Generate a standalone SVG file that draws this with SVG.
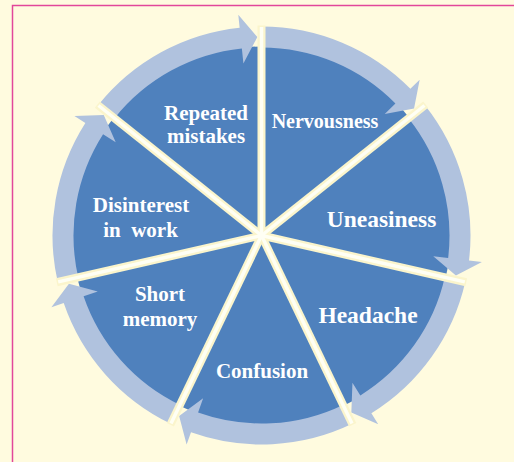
<svg xmlns="http://www.w3.org/2000/svg" width="514" height="462" viewBox="0 0 514 462">
<style>
.slice{fill:#4F81BD}
.ring{fill:#B0C2DE}
.sepo{stroke:#FBF5CC;stroke-width:8;stroke-linecap:butt}
.sepi{stroke:#FFFFF4;stroke-width:3.5;stroke-linecap:butt}
.lbl{font-family:"Liberation Serif","Times New Roman",serif;font-weight:bold;fill:#FFFFFF;text-anchor:middle}
.s21{font-size:21px}
.s20{font-size:20px}
.s23{font-size:23.5px}
</style>
<rect x="0" y="0" width="514" height="462" fill="#FFFBDF"/>
<path d="M12.5 462 V5.5 H514" fill="none" stroke="#E2479A" stroke-width="1.5"/>
<g id="nodes">
<g id="node-nervousness">
<path class="slice" d="M261.5 235.5 L261.5 46.5 A189 189 0 0 1 409.27 117.66 Z"/>
<text class="lbl s20" x="325" y="128">Nervousness</text>
</g>
<g id="node-uneasiness">
<path class="slice" d="M261.5 235.5 L409.27 117.66 A189 189 0 0 1 445.76 277.56 Z"/>
<text class="lbl s23" x="381.5" y="227">Uneasiness</text>
</g>
<g id="node-headache">
<path class="slice" d="M261.5 235.5 L445.76 277.56 A189 189 0 0 1 343.5 405.78 Z"/>
<text class="lbl s23" x="368" y="322.5">Headache</text>
</g>
<g id="node-confusion">
<path class="slice" d="M261.5 235.5 L343.5 405.78 A189 189 0 0 1 179.5 405.78 Z"/>
<text class="lbl s21" x="262" y="378">Confusion</text>
</g>
<g id="node-short-memory">
<path class="slice" d="M261.5 235.5 L179.5 405.78 A189 189 0 0 1 77.24 277.56 Z"/>
<text class="lbl s21" x="160" y="301">Short</text>
<text class="lbl s21" x="160" y="326">memory</text>
</g>
<g id="node-disinterest">
<path class="slice" d="M261.5 235.5 L77.24 277.56 A189 189 0 0 1 113.73 117.66 Z"/>
<text class="lbl s21" x="141" y="211.5">Disinterest</text>
<text class="lbl s21" x="140.5" y="236.5" xml:space="preserve">in  work</text>
</g>
<g id="node-repeated-mistakes">
<path class="slice" d="M261.5 235.5 L113.73 117.66 A189 189 0 0 1 261.5 46.5 Z"/>
<text class="lbl s21" x="206" y="119.5">Repeated</text>
<text class="lbl s21" x="206" y="143">mistakes</text>
</g>
</g>
<g id="connectors">
<path class="ring" d="M261.5 26.5 A209 209 0 0 1 410.39 88.82 L419.65 79.7 L414.07 108.52 L384.74 114.09 L395.43 103.56 A188 188 0 0 0 261.5 47.5 Z"/>
<path class="ring" d="M424.9 105.19 A209 209 0 0 1 469 260.45 L481.91 262.01 L455.9 275.61 L433.26 256.16 L448.15 257.95 A188 188 0 0 0 408.48 118.28 Z"/>
<path class="ring" d="M465.26 282.01 A209 209 0 0 1 371.37 413.29 L378.2 424.35 L351.35 412.5 L352.44 382.67 L360.33 395.43 A188 188 0 0 0 444.79 277.33 Z"/>
<path class="ring" d="M352.18 423.8 A209 209 0 0 1 191 432.25 L186.61 444.49 L179.14 416.11 L203.14 398.36 L198.08 412.48 A188 188 0 0 0 343.07 404.88 Z"/>
<path class="ring" d="M170.82 423.8 A209 209 0 0 1 63.72 303.05 L51.41 307.25 L68.94 283.71 L97.78 291.42 L83.59 296.26 A188 188 0 0 0 179.93 404.88 Z"/>
<path class="ring" d="M57.74 282.01 A209 209 0 0 1 85.37 122.98 L74.42 115.99 L103.75 115.01 L115.71 142.37 L103.07 134.29 A188 188 0 0 0 78.21 277.33 Z"/>
<path class="ring" d="M98.1 105.19 A209 209 0 0 1 239.65 27.64 L238.29 14.72 L257.34 37.04 L243.42 63.45 L241.85 48.53 A188 188 0 0 0 114.52 118.28 Z"/>
</g>
<g id="separators">
<g class="sepo">
<line x1="261.5" y1="235.5" x2="261.5" y2="25.5"/>
<line x1="261.5" y1="235.5" x2="425.68" y2="104.57"/>
<line x1="261.5" y1="235.5" x2="466.23" y2="282.23"/>
<line x1="261.5" y1="235.5" x2="352.62" y2="424.7"/>
<line x1="261.5" y1="235.5" x2="170.38" y2="424.7"/>
<line x1="261.5" y1="235.5" x2="56.77" y2="282.23"/>
<line x1="261.5" y1="235.5" x2="97.32" y2="104.57"/>
</g>
<g class="sepi">
<line x1="261.5" y1="235.5" x2="261.5" y2="27"/>
<line x1="261.5" y1="235.5" x2="424.5" y2="105.5"/>
<line x1="261.5" y1="235.5" x2="464.8" y2="281.9"/>
<line x1="261.5" y1="235.5" x2="352" y2="423.4"/>
<line x1="261.5" y1="235.5" x2="171" y2="423.4"/>
<line x1="261.5" y1="235.5" x2="58.2" y2="281.9"/>
<line x1="261.5" y1="235.5" x2="98.5" y2="105.5"/>
</g>
</g>
</svg>
